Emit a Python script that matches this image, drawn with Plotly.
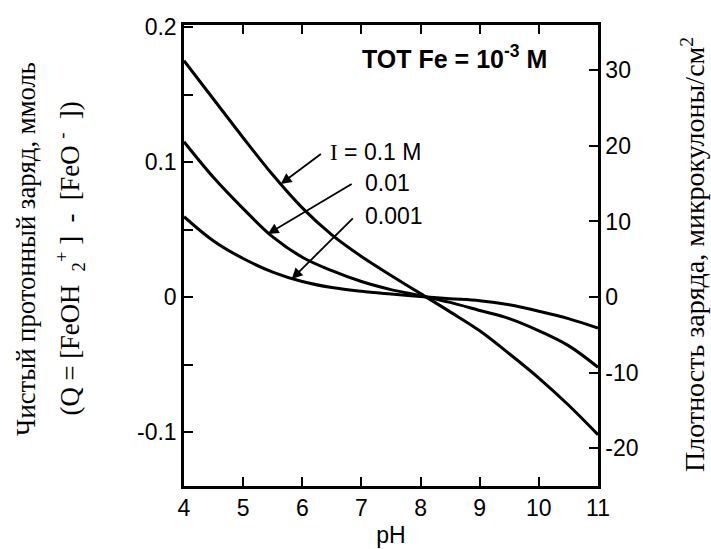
import plotly.graph_objects as go

# ---- data ----
ph = [4, 4.5, 5, 5.5, 6, 6.5, 7, 7.5, 8, 8.5, 9, 9.5, 10, 10.5, 11]
q_i01 = [0.175, 0.1465, 0.118, 0.0905, 0.066, 0.046, 0.030, 0.016, 0.0025, -0.011, -0.025, -0.042, -0.060, -0.080, -0.102]
q_i001 = [0.115, 0.0885, 0.0655, 0.0445, 0.0295, 0.0195, 0.0115, 0.0055, 0.001, -0.004, -0.010, -0.016, -0.025, -0.036, -0.052]
q_i0001 = [0.0595, 0.0415, 0.0285, 0.0185, 0.0115, 0.007, 0.0042, 0.0022, 0.0004, -0.0012, -0.0027, -0.0058, -0.0105, -0.016, -0.023]

x_ticks = [4, 5, 6, 7, 8, 9, 10, 11]
y_ticks = [-0.1, 0, 0.1, 0.2]
y_ticktext = ["-0.1", "0", "0.1", "0.2"]
y_minor = [-0.05, 0.05, 0.15]
y2_ticks = [-20, -10, 0, 10, 20, 30]
y2_ticktext = ["-20", "-10", "0", "10", "20", "30"]

SANS = "Liberation Sans, Arial, sans-serif"
SERIF = "Liberation Serif, Times New Roman, serif"
TICKFONT = dict(family=SANS, size=23, color="black")

fig = go.Figure()
for ys in (q_i01, q_i001, q_i0001):
    fig.add_trace(go.Scatter(x=ph, y=ys, mode="lines", line=dict(color="black", width=3, shape="spline", smoothing=1.0),
                             showlegend=False, hoverinfo="skip"))
# invisible trace to carry the right axis
fig.add_trace(go.Scatter(x=[ph[0]], y=[0], yaxis="y2", mode="markers", marker=dict(opacity=0),
                         showlegend=False, hoverinfo="skip"))

# arrows (head on curve, tail near label)
arrows = [
    (5.636, 0.0837, 6.34, 0.1067),
    (5.417, 0.0467, 6.86, 0.0844),
    (5.821, 0.0133, 6.88, 0.0593),
]
for hx, hy, tx, ty in arrows:
    fig.add_annotation(x=hx, y=hy, ax=tx, ay=ty, xref="x", yref="y", axref="x", ayref="y",
                       text="", showarrow=True, arrowhead=2, arrowsize=1.2, arrowwidth=1.8, arrowcolor="black")

LBL = dict(family=SANS, size=23, color="black")
fig.add_annotation(x=6.43, y=0.1075, xref="x", yref="y", xanchor="left", yanchor="middle", showarrow=False,
                   text='<span style="font-family:Liberation Serif">I</span> = 0.1 M', font=LBL)
fig.add_annotation(x=7.03, y=0.0843, xref="x", yref="y", xanchor="left", yanchor="middle", showarrow=False,
                   text="0.01", font=LBL)
fig.add_annotation(x=7.03, y=0.060, xref="x", yref="y", xanchor="left", yanchor="middle", showarrow=False,
                   text="0.001", font=LBL)
fig.add_annotation(x=6.98, y=0.178, xref="x", yref="y", xanchor="left", yanchor="middle", showarrow=False,
                   text="<b>TOT Fe = 10<sup>-3</sup> M</b>", font=dict(family=SANS, size=25, color="black"))

# axis titles as rotated annotations
fig.add_annotation(x=-0.382, y=0.514, xref="paper", yref="paper", xanchor="center", yanchor="middle", showarrow=False,
                   textangle=-90, text="Чистый протонный заряд, ммоль", font=dict(family=SERIF, size=26.7, color="black"))
fig.add_annotation(x=-0.275, y=0.494, xref="paper", yref="paper", xanchor="center", yanchor="middle", showarrow=False,
                   textangle=-90, text="(Q = [FeOH  <sub>2</sub><sup>+</sup> ]  -  [FeO <sup>-</sup>  ])",
                   font=dict(family=SERIF, size=26.7, color="black"))
fig.add_annotation(x=1.229, y=0.503, xref="paper", yref="paper", xanchor="center", yanchor="middle", showarrow=False,
                   textangle=-90, text="Плотность заряда, микрокулоны/см<sup>2</sup>",
                   font=dict(family=SERIF, size=28, color="black"))

fig.update_layout(
    width=711, height=549,
    margin=dict(l=184, r=113, t=25, b=63, autoexpand=False),
    paper_bgcolor="white", plot_bgcolor="white",
    xaxis=dict(range=[4, 11], tickvals=x_ticks, ticks="inside", ticklen=9, tickwidth=2, tickcolor="black",
               showline=True, linewidth=2.5, linecolor="black", mirror="ticks", showgrid=False, zeroline=False,
               tickfont=TICKFONT, automargin=False,
               title=dict(text="pH", font=dict(family=SANS, size=23, color="black"), standoff=7)),
    yaxis=dict(range=[-0.140, 0.2015], tickvals=y_ticks, ticktext=y_ticktext, ticks="inside", ticklen=9, tickwidth=2,
               tickcolor="black", showline=True, linewidth=2.5, linecolor="black", mirror=False, showgrid=False,
               zeroline=False, tickfont=TICKFONT, automargin=False,
               minor=dict(tickvals=y_minor, ticks="inside", ticklen=9, tickwidth=2, tickcolor="black", showgrid=False)),
    yaxis2=dict(range=[-25.0, 36.0], overlaying="y", side="right", tickvals=y2_ticks, ticktext=y2_ticktext,
                ticks="inside", ticklen=9, tickwidth=2, tickcolor="black", showline=True, linewidth=2.5,
                linecolor="black", showgrid=False, zeroline=False, tickfont=TICKFONT, automargin=False),
)

fig.write_html("out.html", config={"displayModeBar": False},
               post_script="document.body.style.margin='0';")
